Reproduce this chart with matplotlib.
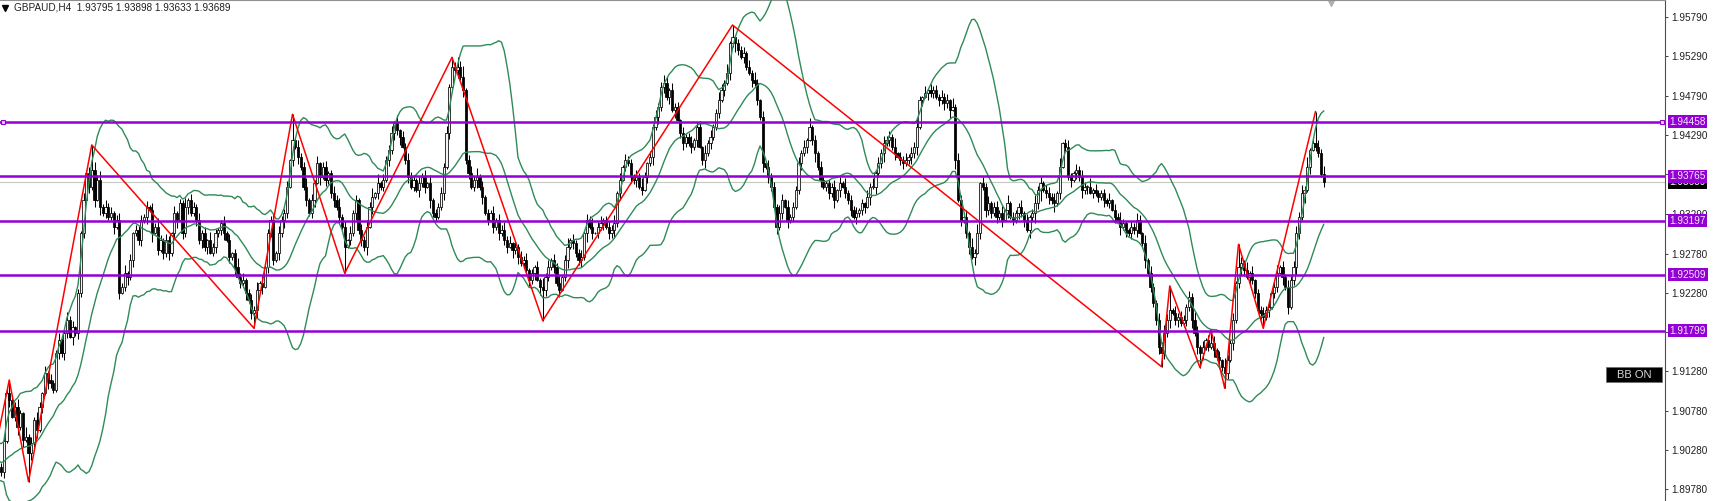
import numpy as np
import pandas as pd
import matplotlib
matplotlib.use('Agg')
import matplotlib.pyplot as plt
from matplotlib.patches import Rectangle

plt.rcParams['font.family'] = ['Liberation Sans', 'DejaVu Sans']

symbol = 'GBPAUD,H4'
base = 1.9          # prices are kept in points above 1.90000

# 20 closes before the first visible bar (only used for the bands)
warmup_close = [310, 280, 250, 300, 260, 220, 180, 240, 200, 150,
                120, 160, 90, 60, 20, -150, -60, 30, 80, 60]

# H4 closes, visible bars
close_pts = [
    0, 400, 1000, 918, 706, 830, 580, 750, 410, 450,
    240, 367, 660, 540, 830, 1000, 1257, 1172, 1130, 1045,
    1512, 1682, 1512, 1766, 1936, 1724, 1850, 1766, 2275, 3038,
    3462, 3801, 3632, 3844, 3462, 3716, 3377, 3292, 3377, 3250,
    3292, 3123, 3208, 2275, 2360, 2529, 2487, 2699, 3038, 3080,
    2953, 3208, 3250, 3377, 3335, 3038, 3123, 2826, 2953, 2784,
    2953, 2784, 3038, 3292, 3208, 3420, 3038, 3377, 3462, 3292,
    3377, 3208, 2953, 3038, 2868, 2953, 2784, 2868, 3038, 3080,
    3165, 3038, 2953, 2741, 2784, 2614, 2487, 2402, 2444, 2275,
    2190, 2020, 2063, 2317, 2402, 2360, 2614, 3038, 3208, 2699,
    2784, 3038, 3208, 3292, 3632, 3971, 4225, 4140, 4013, 3886,
    3632, 3462, 3292, 3462, 3674, 3928, 3759, 3886, 3716, 3801,
    3547, 3462, 3377, 3250, 3123, 2868, 2953, 3038, 3292, 3462,
    3080, 2953, 2868, 3123, 3377, 3505, 3547, 3674, 3632, 3716,
    3971, 4098, 4310, 4437, 4352, 4268, 4140, 3971, 3759, 3632,
    3716, 3589, 3674, 3759, 3632, 3674, 3462, 3292, 3250, 3377,
    3547, 3886, 4310, 4904, 5158, 5116, 5158, 5031, 4861, 3971,
    3801, 3632, 3716, 3759, 3632, 3505, 3292, 3208, 3292, 3123,
    3208, 3038, 3080, 2953, 2868, 2911, 2826, 2868, 2741, 2656,
    2699, 2572, 2444, 2529, 2614, 2444, 2360, 2317, 2487, 2614,
    2699, 2614, 2402, 2317, 2487, 2699, 2868, 2953, 2911, 2784,
    2699, 2741, 3038, 3208, 3123, 3038, 3038, 3123, 3165, 3208,
    3123, 3038, 3080, 3165, 3547, 3716, 3886, 3971, 3928, 3759,
    3716, 3759, 3632, 3589, 3759, 3928, 4013, 4395, 4522, 4649,
    4904, 4946, 4776, 4861, 4607, 4649, 4480, 4310, 4183, 4268,
    4183, 4140, 4225, 4395, 4140, 3971, 4055, 4183, 4268, 4395,
    4564, 4734, 4861, 4946, 5073, 5455, 5540, 5455, 5370, 5285,
    5328, 5158, 5073, 4988, 4946, 4734, 4522, 3929, 3886, 3759,
    3632, 3377, 3123, 3292, 3462, 3377, 3208, 3250, 3377, 3589,
    3929, 4055, 4140, 4225, 4395, 4225, 4055, 3886, 3716, 3632,
    3674, 3547, 3632, 3462, 3589, 3674, 3632, 3547, 3462, 3335,
    3250, 3292, 3335, 3420, 3377, 3505, 3632, 3632, 3801, 3929,
    4055, 4183, 4225, 4268, 4140, 4055, 4013, 3971, 3929, 3971,
    4013, 4055, 4140, 4395, 4734, 4776, 4819, 4861, 4819, 4861,
    4776, 4734, 4776, 4692, 4734, 4607, 4649, 3971, 3462, 3208,
    3250, 3038, 2868, 2741, 2784, 3038, 3674, 3632, 3335, 3420,
    3292, 3377, 3250, 3292, 3208, 3335, 3420, 3250, 3208, 3292,
    3377, 3292, 3208, 3080, 3250, 3292, 3420, 3589, 3674, 3589,
    3547, 3505, 3462, 3420, 3547, 3886, 4183, 4140, 3759, 3716,
    3801, 3844, 3759, 3589, 3632, 3632, 3547, 3589, 3547, 3505,
    3547, 3462, 3420, 3462, 3335, 3250, 3208, 3123, 3165, 3080,
    3038, 3123, 3080, 3208, 3038, 2911, 2699, 2529, 2360, 2148,
    1936, 1597, 1512, 1766, 1936, 2063, 2020, 1936, 1978, 1893,
    1936, 2105, 2232, 1936, 1766, 1597, 1512, 1597, 1682, 1597,
    1639, 1554, 1470, 1427, 1342, 1257, 1427, 1639, 1936, 2402,
    2614, 2656, 2572, 2487, 2529, 2444, 2275, 2063, 2020, 1978,
    2063, 2105, 2275, 2360, 2529, 2614, 2487, 2360, 2105, 2444,
    2614, 3038, 3250, 3547, 3589, 3886, 4098, 4183, 4140, 4055,
    3795, 3689,
]

# wick lengths, one digit per bar, in units of wick_unit points
wick_unit = 15
up_wick = ("4635247318 2537416253 3624735142 6352748263 5246372514"
           "3425163742 5316243725 4263517342 3625147362 4537261435"
           "2634517263 4725361452 3647251634 2536471825 3462715364"
           "4253617243 5362748592 4637251436 2547361425 3624152736"
           "2536147253 4625371462 3547261534 2637415263 4752634152"
           "3624517362 4753826143 5263741526 3427516243 5362714253"
           "2436152734 3524163725 4635271436 2547316253 4263517264"
           "3627481536 2453617243 3625147352 4536271463 2536417253"
           "3426153742 2536417263 3647582635 4253761524 3625174362"
           "4537261435 3624715263 5647382536 46")
down_wick = ("3526147362 4637251843 2536417253 4253617243 3625147362"
             "4536271425 3624715362 2537461253 4625371436 3547261534"
             "2637415263 3524617253 4635271426 3547162534 2536471352"
             "4263517342 3625147363 5247361425 3624517362 4253617254"
             "3526147253 4637251436 2547361425 3624152736 4536271463"
             "2536147253 3425163742 5316243725 4263517342 3625147362"
             "4537261435 2634517263 4725361452 3647251634 2536471825"
             "3462715364 4253617243 5362748592 4637251436 2547361425"
             "3624152736 2536147253 4625371462 3547261534 2637415263"
             "4752634152 3624517362 4753826143 35")

# the last (current) bar as shown in the header
last_bar = {'o': 3795, 'h': 3898, 'l': 3633, 'c': 3689}

# zigzag turning points: bar index and price in points
zz_idx = [-5, 3, 10, 33, 92, 106, 125, 164, 197, 266, 422, 425, 436, 440, 445, 450, 459, 478]
zz_pts = [-214, 1172, -120, 4162, 1830, 4552, 2529, 5277, 1927, 5688, 1342, 2368, 1329, 1808,
          1066, 2898, 1830, 4586]

levels = [1.94458, 1.93765, 1.93197, 1.92509, 1.91799]
yticks = [1.89780, 1.90280, 1.90780, 1.91280, 1.91780, 1.92280, 1.92780,
          1.93290, 1.93790, 1.94290, 1.94790, 1.95290, 1.95790]


def to_price(p):
    return base + np.asarray(p, dtype=float) / 1e5


closes = to_price(close_pts)
n = len(closes)
opens = np.r_[to_price(warmup_close[-1]), closes[:-1]]
uw = np.array([int(c) for c in up_wick.replace(' ', '')]) * wick_unit / 1e5
dw = np.array([int(c) for c in down_wick.replace(' ', '')]) * wick_unit / 1e5
highs = np.maximum(opens, closes) + uw
lows = np.minimum(opens, closes) - dw
opens[-1] = to_price(last_bar['o'])
closes[-1] = to_price(last_bar['c'])
highs[-1] = to_price(last_bar['h'])
lows[-1] = to_price(last_bar['l'])

zz_price = to_price(zz_pts)
for i, p in zip(zz_idx, zz_price):
    if 0 <= i < n:
        if p > max(opens[i], closes[i]):
            highs[i] = max(highs[i], p)
        else:
            lows[i] = min(lows[i], p)

# Bollinger bands 20, 2 on all closes
allc = pd.Series(np.r_[to_price(warmup_close), closes])
mid = allc.rolling(20).mean()
sd = allc.rolling(20).std(ddof=0)
nw = len(warmup_close)
bx = np.arange(-nw, n)
bb_mid = mid.values
bb_up = (mid + 2 * sd).values
bb_lo = (mid - 2 * sd).values

#%% plot
W, H = 1717, 501
plot_w = 1665
fig = plt.figure(figsize=(W / 100, H / 100), dpi=100)
ax = fig.add_axes([0, 0, plot_w / W, 1])

x = np.arange(n)
bull = closes >= opens
ax.vlines(x, lows, highs, color='black', lw=0.75, zorder=2)
body_lo = np.minimum(opens, closes)
body_h = np.maximum(np.abs(closes - opens), 0.00002)
ax.bar(x[bull], body_h[bull], bottom=body_lo[bull], width=0.8,
       facecolor='#f4f4f4', edgecolor='black', linewidth=0.55, zorder=3)
ax.bar(x[~bull], body_h[~bull], bottom=body_lo[~bull], width=0.8,
       facecolor='black', edgecolor='black', linewidth=0.55, zorder=3)

for band in (bb_up, bb_mid, bb_lo):
    ax.plot(bx, band, color='#2E8B57', lw=1.0, zorder=4)

ax.plot(zz_idx, zz_price, color='red', lw=1.1, zorder=5)

bid = closes[-1]
ax.axhline(bid, color='#c8c8c8', lw=0.8, zorder=1)
for lv in levels:
    ax.axhline(lv, color='#9400D3', lw=1.8, zorder=6)
ytr = ax.get_yaxis_transform()
ax.plot([0.002, 0.998], [levels[0], levels[0]], 's', ms=3, mfc='#e8c8ff', mec='#9400D3',
        mew=0.8, transform=ytr, zorder=7, clip_on=False)

px = 1.0 / 2.75
ax.set_xlim(-1 * px, 1664 * px)
top = 1.95790 + 17 / 39.3 * 0.005
bottom = 1.95790 - 484 / 39.3 * 0.005
ax.set_ylim(bottom, top)

ax.set_xticks([])
ax.yaxis.tick_right()
ax.set_yticks(yticks)
ax.set_yticklabels(['%.5f' % t for t in yticks])
ax.tick_params(axis='y', direction='out', length=2.5, width=0.6, pad=2.2,
               labelsize=7.2, colors='#202020')
for s in ('left', 'bottom'):
    ax.spines[s].set_visible(False)
ax.spines['top'].set_color('#909090')
ax.spines['right'].set_color('#505050')
ax.spines['right'].set_linewidth(0.8)

# price labels on the scale (they sit over the tick labels, as in the terminal)
lab_x = 1669.5 / plot_w
ax.text(lab_x, bid, '%.5f' % bid, transform=ytr, ha='left', va='center', fontsize=7.2,
        color='white', zorder=8, clip_on=False,
        bbox=dict(boxstyle='square,pad=0.15', fc='black', ec='none'))
for lv in levels:
    ax.text(lab_x, lv, '%.5f' % lv, transform=ytr, ha='left', va='center', fontsize=7.2,
            color='#f4e8ff', zorder=9, clip_on=False,
            bbox=dict(boxstyle='square,pad=0.15', fc='#9400D3', ec='none'))

# header
ax.plot([5 / plot_w], [1 - 8 / H], 'v', ms=4, color='black', transform=ax.transAxes,
        clip_on=False)
head = '%s  %.5f %.5f %.5f %.5f' % (symbol, opens[-1], highs[-1], lows[-1], closes[-1])
ax.text(14 / plot_w, 1 - 8 / H, head, transform=ax.transAxes, ha='left', va='center',
        fontsize=7.2, color='#202020')

# chart shift marker
ax.plot([1331 / plot_w], [1 - 1.5 / H], 'v', ms=6, color='#b0b0b0',
        transform=ax.transAxes, clip_on=False)

# BB ON button
ax.add_patch(Rectangle((1606 / plot_w, 1 - 382 / H), 56 / plot_w, 15 / H,
                       transform=ax.transAxes, fc='black', ec='#707070', lw=0.6, zorder=8))
ax.text(1634 / plot_w, 1 - 374.5 / H, 'BB ON', transform=ax.transAxes, ha='center',
        va='center', fontsize=8, color='#d8d8d8', zorder=9)

fig.savefig('out.png', dpi=100)
